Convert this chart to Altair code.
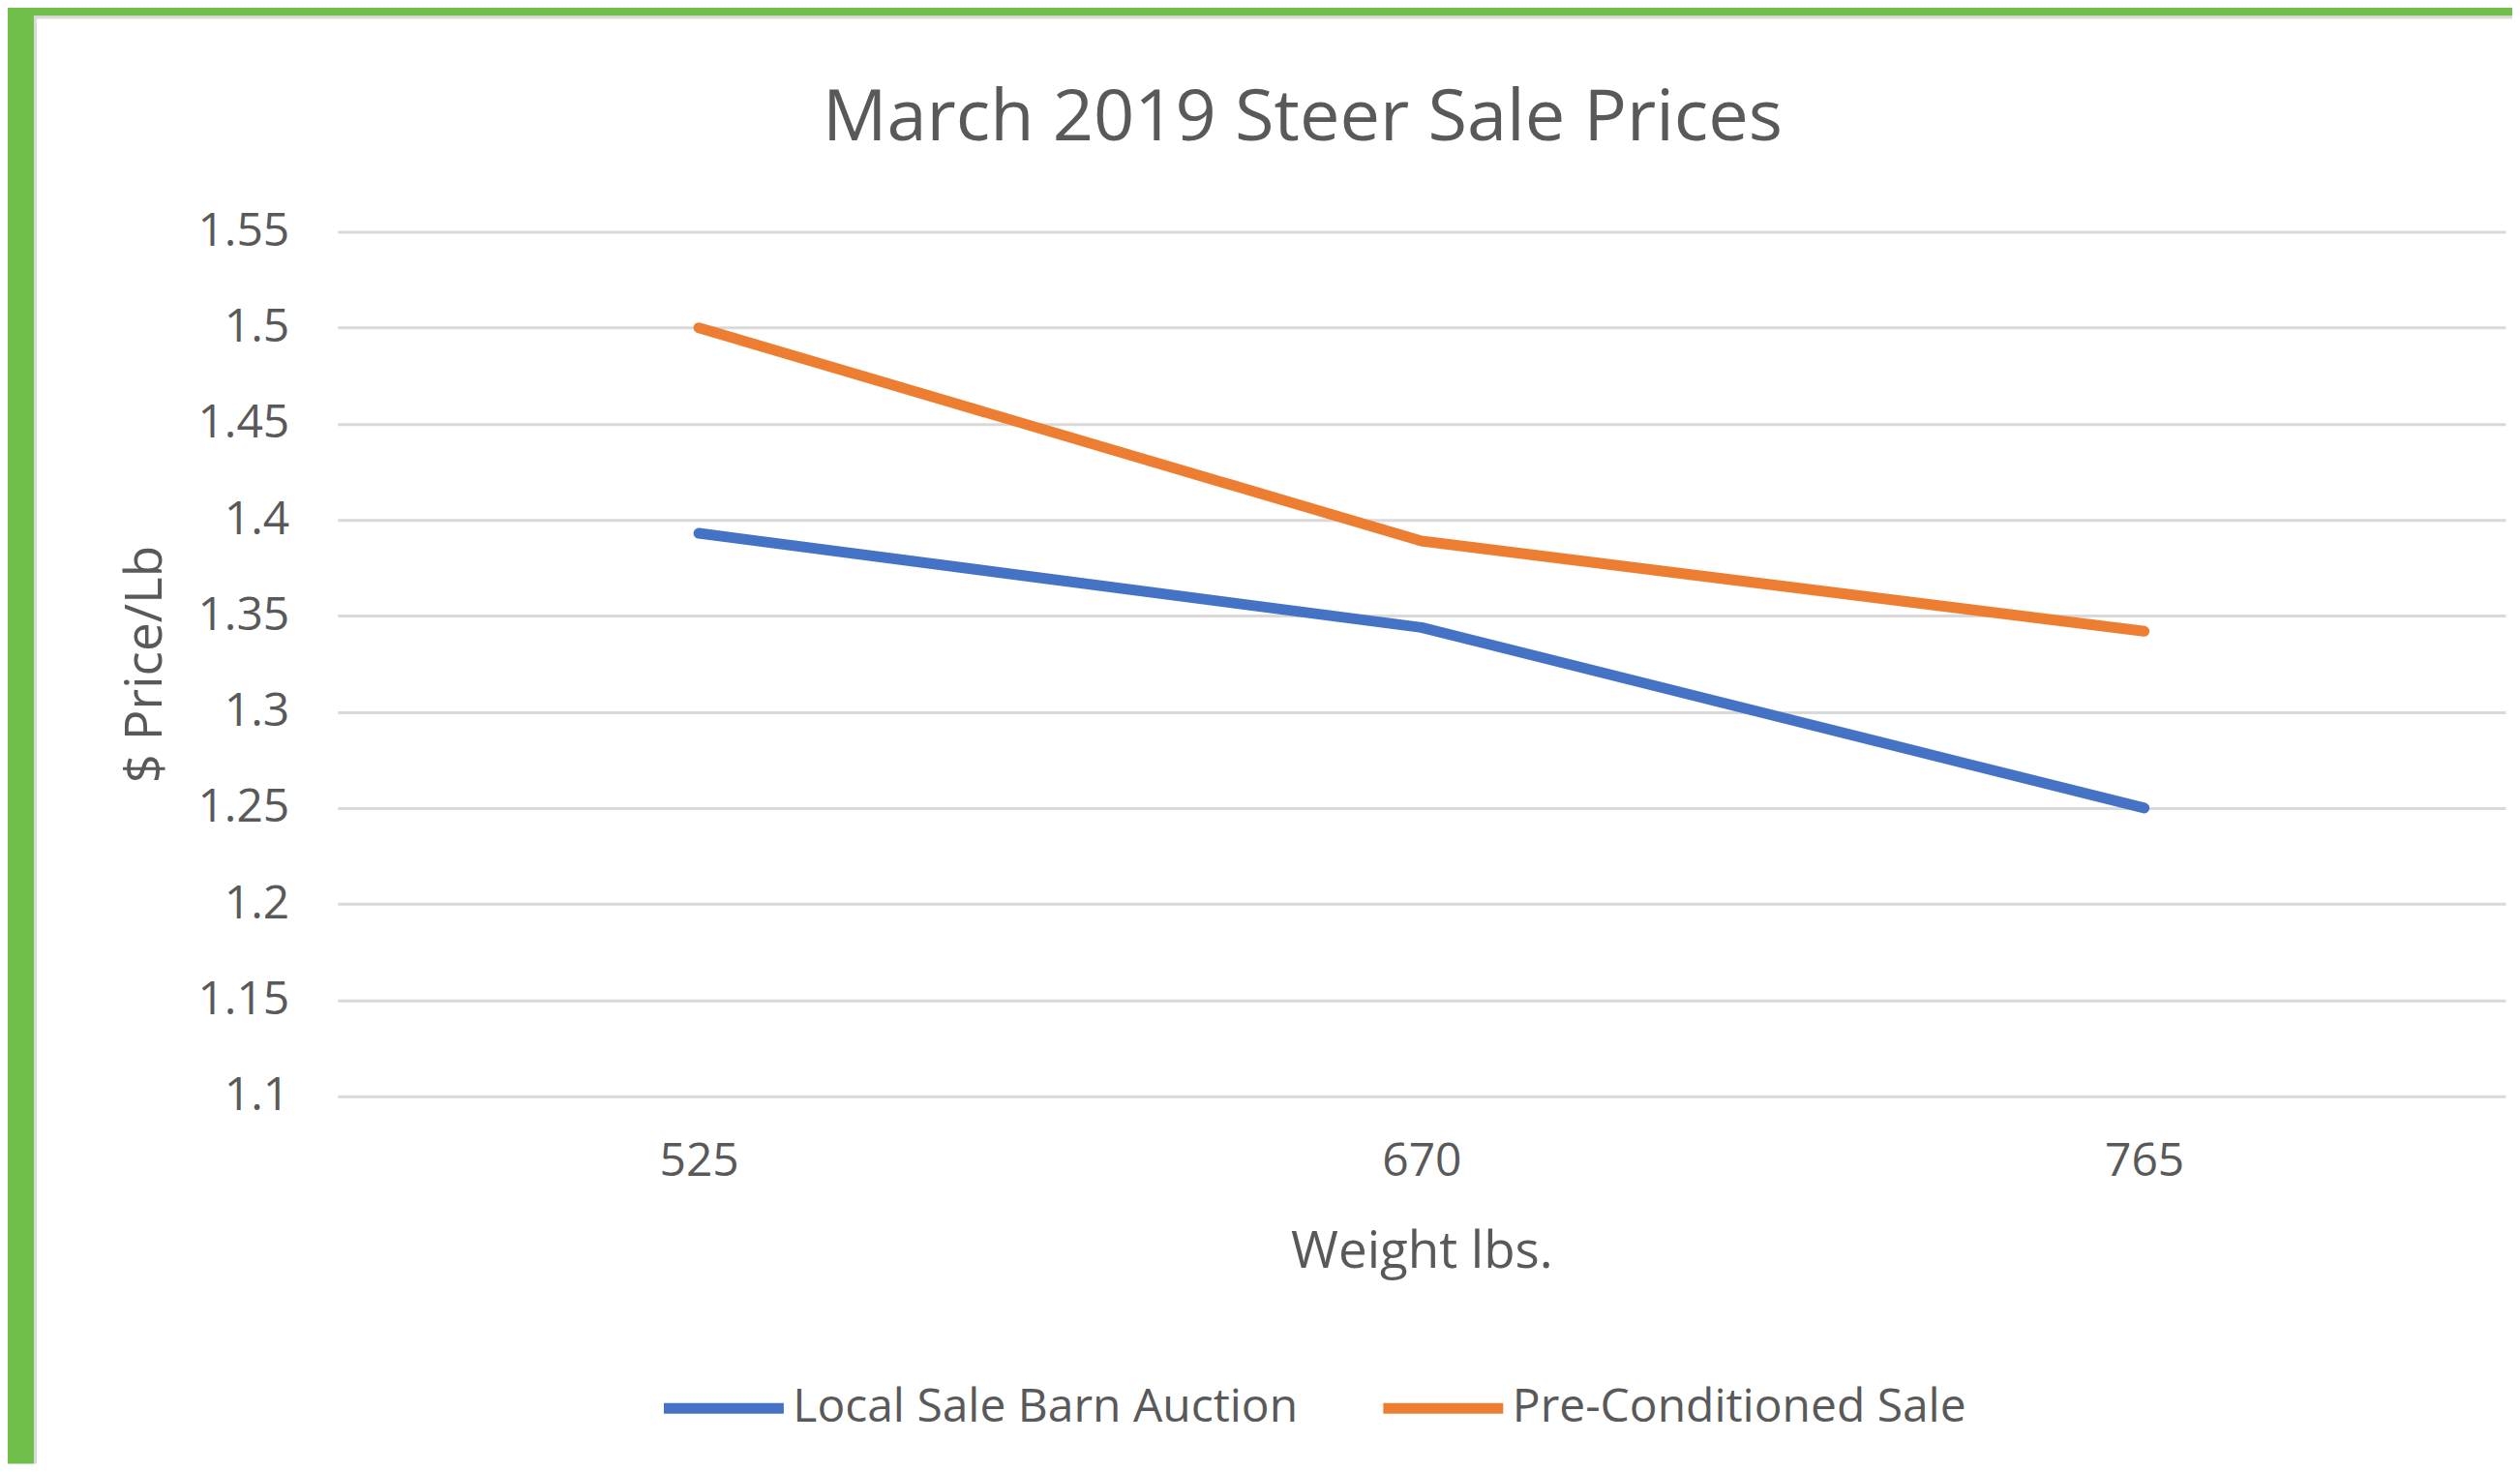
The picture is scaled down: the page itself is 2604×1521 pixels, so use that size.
import altair as alt
import pandas as pd

weights = ["525", "670", "765"]
series_names = ["Local Sale Barn Auction", "Pre-Conditioned Sale"]
local_prices = [1.393, 1.344, 1.25]
precond_prices = [1.50, 1.389, 1.342]
y_ticks = [1.1, 1.15, 1.2, 1.25, 1.3, 1.35, 1.4, 1.45, 1.5, 1.55]
colors = ["#4472C4", "#ED7D31"]

rows = []
for w, p in zip(weights, local_prices):
    rows.append({"Weight": w, "Series": series_names[0], "Price": p})
for w, p in zip(weights, precond_prices):
    rows.append({"Weight": w, "Series": series_names[1], "Price": p})
df = pd.DataFrame(rows)

FONT = "Open Sans"
TXT = "#595959"
GREEN = "#70BF4A"
BORDER = "#D9D9D9"

PLOT_W = 2242
PLOT_H = 894
PAD_L, PAD_T, PAD_R, PAD_B = 341, 231, 7, 380

lines = alt.Chart(df).mark_line(strokeWidth=11, strokeCap="round", strokeJoin="round").encode(
    x=alt.X(
        "Weight:O",
        sort=weights,
        scale=alt.Scale(type="point", padding=0.5),
        axis=alt.Axis(
            title="Weight lbs.",
            labelAngle=0,
            labelFont=FONT,
            labelFontSize=48,
            labelColor=TXT,
            labelPadding=44,
            ticks=False,
            domain=False,
            grid=False,
            titleFont=FONT,
            titleFontSize=53,
            titleFontWeight="normal",
            titleColor=TXT,
            titleBaseline="alphabetic",
            titleY=177,
        ),
    ),
    y=alt.Y(
        "Price:Q",
        scale=alt.Scale(domain=[1.1, 1.55], zero=False, nice=False),
        axis=alt.Axis(
            title="$ Price/Lb",
            values=y_ticks,
            labelExpr="format(datum.value, '.2~f')",
            labelFont=FONT,
            labelFontSize=48,
            labelColor=TXT,
            labelPadding=50,
            ticks=False,
            domain=False,
            grid=True,
            gridColor=BORDER,
            gridWidth=3,
            titleFont=FONT,
            titleFontSize=53,
            titleFontWeight="normal",
            titleColor=TXT,
            titleBaseline="alphabetic",
            titleX=-182,
            titleY=PLOT_H / 2,
            titleAngle=270,
        ),
    ),
    color=alt.Color(
        "Series:N",
        scale=alt.Scale(domain=series_names, range=colors),
        title=None,
        legend=alt.Legend(
            orient="none",
            direction="horizontal",
            legendX=332,
            legendY=1149,
            symbolType="stroke",
            symbolStrokeWidth=11,
            symbolSize=15376,
            labelFont=FONT,
            labelFontSize=48,
            labelColor=TXT,
            labelLimit=0,
            labelOffset=4,
            columnPadding=65,
            padding=0,
        ),
    ),
)

frame_data = alt.Data(values=[{"k": 0}])
green_left = alt.Chart(frame_data).mark_rect(color=GREEN).encode(
    x=alt.value(-PAD_L - 8), x2=alt.value(-PAD_L + 27),
    y=alt.value(-PAD_T - 8), y2=alt.value(PLOT_H + PAD_B),
)
green_top = alt.Chart(frame_data).mark_rect(color=GREEN).encode(
    x=alt.value(-PAD_L - 8), x2=alt.value(PLOT_W + PAD_R),
    y=alt.value(-PAD_T - 8), y2=alt.value(-PAD_T + 8),
)
border_left = alt.Chart(frame_data).mark_rect(color=BORDER).encode(
    x=alt.value(-PAD_L + 27), x2=alt.value(-PAD_L + 30),
    y=alt.value(-PAD_T + 8), y2=alt.value(PLOT_H + PAD_B),
)
border_top = alt.Chart(frame_data).mark_rect(color=BORDER).encode(
    x=alt.value(-PAD_L + 27), x2=alt.value(PLOT_W + PAD_R),
    y=alt.value(-PAD_T + 8), y2=alt.value(-PAD_T + 11),
)

chart = alt.layer(green_left, green_top, border_left, border_top, lines).properties(
    width=PLOT_W,
    height=PLOT_H,
    padding={"left": PAD_L, "top": PAD_T, "right": PAD_R, "bottom": PAD_B},
    autosize=alt.AutoSizeParams(type="none"),
    background="white",
    title=alt.TitleParams(
        text="March 2019 Steer Sale Prices",
        font=FONT,
        fontSize=74,
        fontWeight="normal",
        color=TXT,
        anchor="middle",
        frame="group",
        baseline="alphabetic",
        offset=0,
        dy=219,
        dx=-123,
    ),
).configure_view(strokeWidth=0)

chart.save("out.html", embed_options={"renderer": "svg", "actions": False})
